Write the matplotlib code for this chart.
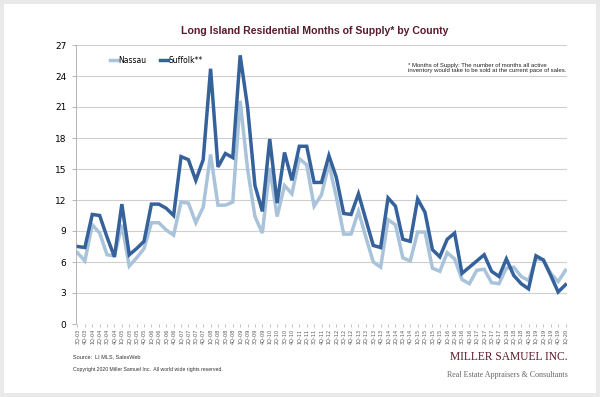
import numpy as np
import matplotlib
matplotlib.use("Agg")
import matplotlib.pyplot as plt
from matplotlib.patches import Rectangle

# quarters 3Q-03 .. 1Q-20
quarters = ["3Q-03", "4Q-03"]
for yr in range(4, 20):
    for q in range(1, 5):
        quarters.append("%dQ-%02d" % (q, yr))
quarters.append("1Q-20")

nassau = [6.9, 6.1, 9.6, 8.8, 6.7, 6.6, 9.6, 5.6, 6.4, 7.3,
          9.8, 9.8, 9.1, 8.6, 11.8, 11.7, 9.8, 11.3, 16.4, 11.5,
          11.5, 11.8, 21.6, 15.0, 10.4, 8.8, 15.1, 10.4, 13.4, 12.6,
          16.0, 15.4, 11.4, 12.5, 15.5, 12.3, 8.7, 8.7, 10.9, 8.4,
          6.0, 5.5, 10.1, 9.6, 6.4, 6.1, 8.9, 8.9, 5.4, 5.1,
          6.9, 6.3, 4.3, 3.9, 5.2, 5.3, 4.0, 3.9, 5.4, 5.5,
          4.6, 4.2, 6.3, 6.2, 4.9, 4.1, 5.2]
suffolk = [7.5, 7.4, 10.6, 10.5, 8.4, 6.5, 11.6, 6.7, 7.3, 8.0,
           11.6, 11.6, 11.2, 10.5, 16.2, 15.9, 13.9, 15.9, 24.7, 15.2,
           16.5, 16.1, 26.0, 21.0, 13.4, 10.9, 17.9, 11.7, 16.6, 13.9,
           17.2, 17.2, 13.7, 13.7, 16.3, 14.2, 10.7, 10.6, 12.6, 10.1,
           7.6, 7.4, 12.2, 11.4, 8.2, 8.0, 12.1, 10.8, 7.2, 6.5,
           8.2, 8.8, 4.9, 5.5, 6.1, 6.7, 5.1, 4.6, 6.3, 4.7,
           3.9, 3.4, 6.6, 6.2, 4.7, 3.1, 3.8]

maroon = "#5b1a2c"
c_nassau = "#a9c3da"
c_suffolk = "#35629b"

fig = plt.figure(figsize=(6.0, 3.97), dpi=100)
fig.patch.set_facecolor("#e9e9e9")
fig.patches.append(Rectangle((4/600, 4/397), 592/600, 389/397, transform=fig.transFigure,
                             facecolor="white", edgecolor="none", zorder=-5))

ax = fig.add_axes([76/600, 1 - 324/397, 491/600, 279/397])
ax.set_facecolor("none")
x = np.arange(len(quarters))
ax.plot(x, nassau, color=c_nassau, lw=2.5, label="Nassau", solid_joinstyle="miter")
ax.plot(x, suffolk, color=c_suffolk, lw=2.5, label="Suffolk**", solid_joinstyle="miter")

ax.set_xlim(-0.2, len(quarters) - 0.8)
ax.set_ylim(0, 27)
ax.set_yticks(range(0, 28, 3))
ax.yaxis.grid(True, color="#cfcfcf", lw=0.8)
ax.set_axisbelow(True)
ax.set_xticks(x)
ax.set_xticklabels(quarters, rotation=90, fontsize=3.6, color="#555555")
ax.tick_params(axis="y", labelsize=6.5, length=3, color="#aaaaaa", width=0.6, pad=4)
ax.tick_params(axis="x", length=2, color="#aaaaaa", width=0.5, pad=1.5)
for s in ["top", "right", "bottom"]:
    ax.spines[s].set_visible(False)
ax.spines["left"].set_color("#aaaaaa")
ax.spines["left"].set_linewidth(0.6)

ax.legend(loc="upper left", bbox_to_anchor=(0.055, 0.985), ncol=2, frameon=False,
          fontsize=5.5, handlelength=1.0, handletextpad=0.1, columnspacing=1.8)

fig.text(315/600, 1 - 31/397, "Long Island Residential Months of Supply* by County",
         ha="center", va="center", fontsize=7.6, fontweight="bold", color=maroon,
         family="Liberation Sans")

fig.text(408/600, 1 - 68/397,
         "* Months of Supply: The number of months all active\n"
         "inventory would take to be sold at the current pace of sales.",
         ha="left", va="center", fontsize=4.3, color="#222222", family="Liberation Sans",
         linespacing=1.2)

fig.text(73/600, 1 - 357/397, "Source:  LI MLS, SalesWeb", ha="left", va="center",
         fontsize=4.0, color="#333333", family="Liberation Sans")
fig.text(73/600, 1 - 369/397,
         "Copyright 2020 Miller Samuel Inc.  All world wide rights reserved.",
         ha="left", va="center", fontsize=3.7, color="#333333", family="Liberation Sans")

fig.text(568/600, 1 - 357/397, "MILLER SAMUEL INC.", ha="right", va="center",
         fontsize=8.3, color=maroon, family="Liberation Serif")
fig.text(568/600, 1 - 375/397, "Real Estate Appraisers & Consultants", ha="right",
         va="center", fontsize=5.8, color="#666666", family="Liberation Serif")

fig.savefig("out.png", dpi=100, facecolor=fig.get_facecolor())
